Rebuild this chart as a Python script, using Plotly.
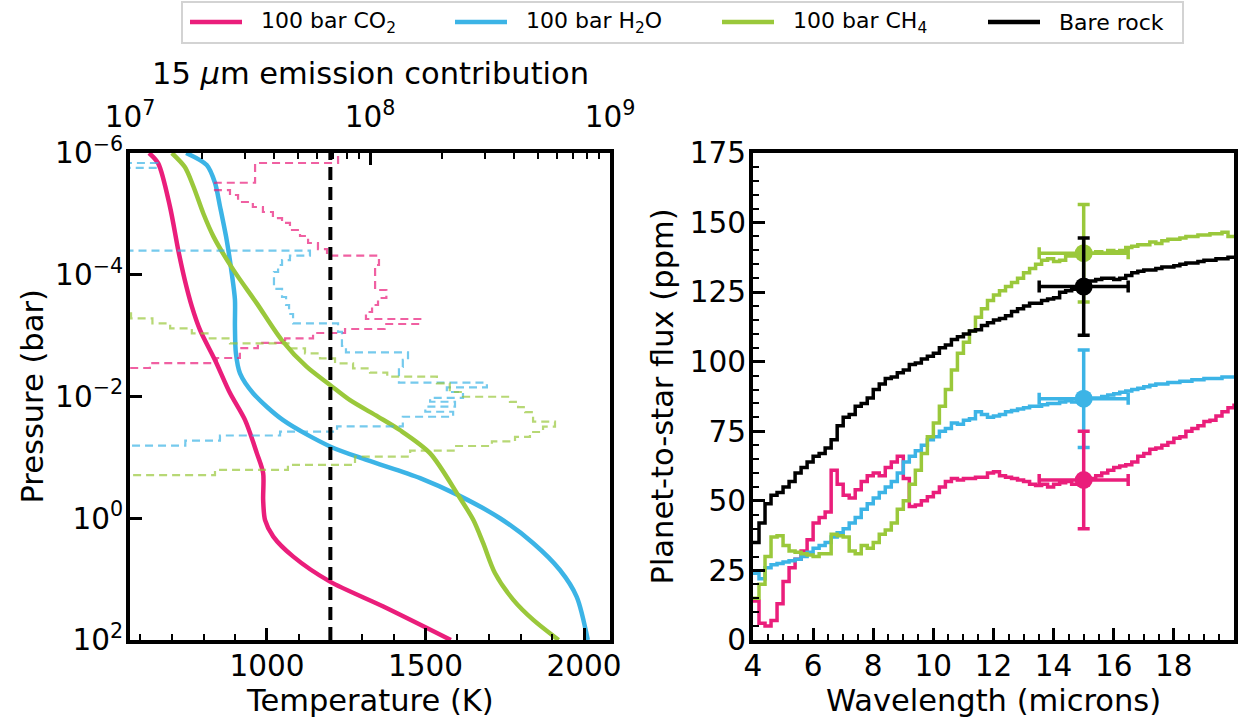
import plotly.graph_objects as go

# ---------------- colours ----------------
PINK = "#EA1E7B"
BLUE = "#3CB4E6"
GREEN = "#9AC83B"
BLACK = "#000000"
FONT = "DejaVu Sans"

# ---------------- left panel: T-P profiles ----------------
co2_p = [1e-6, 1.48e-6, 7.6e-6, 3.9e-5, 1.23e-4, 3.31e-4, 8.13e-4, 2.51e-3, 8.71e-3,
         2.45e-2, 8.51e-2, 0.182, 0.501, 1.07, 2.0, 4.27, 11.0, 28.2, 100]
co2_t = [628, 657, 694, 720, 741, 763, 789, 836, 883, 931, 968, 988, 988, 994, 1020,
         1083, 1199, 1367, 1580]

h2o_p = [1e-6, 1.58e-6, 3.09e-6, 7.6e-6, 2.69e-5, 9.55e-5, 2.57e-4, 7.08e-4, 1.95e-3,
         4.17e-3, 8.91e-3, 2.45e-2, 6.61e-2, 0.110, 0.219, 0.417, 1.0, 2.57, 7.08, 19.5, 100]
h2o_t = [745, 810, 836, 852, 873, 889, 899, 899, 902, 915, 957, 1051, 1199, 1314, 1483,
         1603, 1735, 1840, 1924, 1977, 2012]

ch4_p = [1e-6, 1.70e-6, 3.55e-6, 9.77e-6, 2.34e-5, 8.32e-5, 2.95e-4, 1.17e-3, 3.24e-3,
         6.46e-3, 1.15e-2, 2.14e-2, 3.55e-2, 8.51e-2, 0.417, 1.07, 2.57, 7.94, 21.9, 46.8, 100]
ch4_t = [700, 741, 768, 799, 831, 894, 968, 1046, 1125, 1199, 1262, 1350, 1419, 1514,
         1603, 1651, 1682, 1719, 1777, 1840, 1920]

T_REF = 1200  # vertical dashed reference temperature (K)

# 15 micron emission contribution functions (layer value, layer-top pressure)
co2_cf_p = [1.12e-6, 1.46e-6, 3.08e-6, 4.06e-6, 4.90e-6, 6.38e-6, 7.71e-6, 9.31e-6, 1.17e-5,
            1.41e-5, 1.84e-5, 2.31e-5, 3.01e-5, 3.78e-5, 4.86e-5, 6.92e-5, 1.78e-4, 2.41e-4,
            3.14e-4, 4.09e-4, 5.33e-4, 6.44e-4, 7.78e-4, 9.06e-4, 1.11e-3, 1.32e-3, 1.60e-3,
            2.33e-3, 2.82e-3, 3.40e-3]
co2_cf = [7.36e7, 3.32e7, 2.26e7, 2.61e7, 2.82e7, 3.25e7, 3.58e7, 3.94e7, 4.30e7,
          4.64e7, 5.11e7, 5.52e7, 6.07e7, 6.62e7, 1.09e8, 1.05e8, 1.17e8, 1.08e8,
          1.02e8, 9.62e7, 1.62e8, 1.15e8, 7.87e7, 5.79e7, 4.43e7, 3.41e7, 2.87e7,
          2.30e7, 1.21e7, 1e6]

h2o_cf_p = [8.9e-7, 1.46e-6, 1.76e-6, 4.03e-5, 4.86e-5, 5.73e-5, 6.92e-5, 9.02e-5, 1.71e-4,
            2.32e-4, 3.14e-4, 4.41e-4, 6.28e-4, 8.71e-4, 1.48e-3, 1.88e-3, 2.51e-3, 3.27e-3,
            5.93e-3, 7.06e-3, 8.44e-3, 1.05e-2, 1.22e-2, 1.47e-2, 1.78e-2, 2.15e-2, 3.09e-2,
            3.79e-2, 4.37e-2, 5.32e-2, 6.43e-2]
h2o_cf = [1e6, 1.30e7, 1e6, 5.62e7, 4.64e7, 4.30e7, 4.14e7, 3.98e7, 4.30e7,
          4.47e7, 4.60e7, 4.78e7, 7.36e7, 7.64e7, 7.94e7, 1.44e8, 1.37e8, 1.32e8,
          3.07e8, 2.09e8, 2.44e8, 1.78e8, 2.26e8, 1.70e8, 2.22e8, 1.37e8, 7.29e7,
          4.22e7, 2.37e7, 1.70e7, 1e6]

ch4_cf_p = [8.9e-7, 4.29e-4, 5.19e-4, 6.28e-4, 7.59e-4, 9.17e-4, 1.11e-3, 1.34e-3, 1.62e-3,
            1.95e-3, 2.36e-3, 2.85e-3, 3.44e-3, 4.06e-3, 4.73e-3, 6.07e-3, 8.44e-3, 1.01e-2,
            1.23e-2, 1.49e-2, 1.80e-2, 2.59e-2, 3.13e-2, 3.83e-2, 4.62e-2, 5.44e-2, 6.50e-2,
            7.76e-2, 9.75e-2, 0.133, 0.161, 0.195]
ch4_cf = [1e6, 1.01e7, 1.24e7, 1.47e7, 1.81e7, 2.15e7, 2.61e7, 4.64e7, 5.36e7,
          6.19e7, 7.15e7, 8.50e7, 1.00e8, 1.18e8, 1.90e8, 2.15e8, 2.44e8, 3.83e8,
          4.14e8, 4.43e8, 4.78e8, 5.90e8, 5.26e8, 4.64e8, 4.02e8, 3.22e8, 2.26e8,
          1.47e8, 8.66e7, 4.55e7, 2.26e7, 1e6]

# ---------------- right panel: emission spectra ----------------
wavelength = [4.0 + 0.2 * i for i in range(81)]
flux_rock = [35, 42, 49, 52, 53, 55, 57, 60, 62, 64, 66, 67, 69, 72, 77, 80, 81, 84, 85, 87,
             90, 92, 94, 94.5, 96, 97, 99, 99.5, 101, 102, 103, 105, 106, 108, 109, 110, 111,
             111.5, 113, 114, 115, 115.5, 116.5, 118, 119, 120, 121, 121, 122, 122.5, 123, 125,
             125.5, 126, 127, 128, 129, 129.5, 130, 130, 129.5, 130, 131, 132, 132.5, 133, 133,
             133.5, 134, 134, 134.5, 135, 135.5, 135.5, 136, 136.5, 136.5, 137, 137, 137.5, 138]
flux_co2 = [14, 6, 5, 7, 13, 21, 26, 29, 32, 36, 42, 44, 46, 61, 56, 52, 51, 54, 57, 59,
            60, 59, 62, 64, 66, 58, 48, 48.5, 50, 51.5, 53, 55, 57, 58, 57.5, 58, 58, 58.5,
            58.5, 60, 60.5, 59, 58.5, 58, 57.5, 57, 56, 55.5, 56, 55, 56, 56.5, 57, 56, 57,
            57.5, 58, 59, 60, 61, 62, 62.5, 63, 64, 66, 67, 68.5, 69, 70, 71, 72.5, 73, 75,
            76, 77, 78.5, 79, 80.5, 82, 83.5, 85]
flux_h2o = [24, 22, 26, 27, 27.5, 28, 28.5, 29, 30, 31.5, 33, 34, 35, 37, 38.5, 40, 42, 44,
            47, 49, 51, 53, 55, 57, 60, 64, 66, 68, 70, 72, 73, 75, 76, 78, 77.5, 79, 79.5,
            82, 81, 80, 80.5, 81, 82, 82.5, 83, 83.5, 84, 84, 84.5, 85, 85, 85.5, 86, 85.5,
            86, 86.5, 87, 87, 87.5, 88, 88.5, 89, 89.5, 90, 90.5, 91, 91.5, 92, 92, 92.5,
            92.5, 93, 93, 93.5, 93.5, 94, 94, 94, 94.5, 94.5, 95]
flux_ch4 = [15, 20, 30, 37, 37.5, 34, 32, 31.5, 31, 30.5, 30, 31, 31, 38, 37.5, 37, 32, 31,
            34, 33, 35, 38, 39.5, 42, 47, 50, 56, 61, 67, 73, 78, 84, 90, 97, 103, 107, 111,
            116, 119, 122, 124, 125.5, 127, 128.5, 130, 132, 133.5, 135, 136.5, 137, 136,
            136.5, 138, 138, 138.5, 138.5, 139, 139.5, 139, 140, 139.5, 140, 141, 141.5, 142,
            142, 143, 142.5, 143.5, 144, 144, 144.5, 145, 145, 145.5, 145.5, 146, 146, 146.5,
            145, 144.5]

# 15 micron photometric points
obs_wl = [15.0]
obs_wl_err = [1.48]
obs_flux_err = [17.5]
obs_co2 = [57.5]
obs_h2o = [86.7]
obs_ch4 = [139]
obs_rock = [127]

legend_labels = ["100 bar CO<sub>2</sub>", "100 bar H<sub>2</sub>O",
                 "100 bar CH<sub>4</sub>", "Bare rock"]
legend_colors = [PINK, BLUE, GREEN, BLACK]

# ---------------- figure ----------------
W, H = 1239, 719
L_DOM = [130 / W, 610 / W]
R_DOM = [753 / W, 1234 / W]
Y_DOM = [(H - 640) / H, (H - 153) / H]
TICK_SIZE = 29.5
TITLE_SIZE = 30.5

fig = go.Figure()

# contribution functions (top axis)
for p, c, col in [(co2_cf_p, co2_cf, PINK), (h2o_cf_p, h2o_cf, BLUE), (ch4_cf_p, ch4_cf, GREEN)]:
    fig.add_trace(go.Scatter(x=c, y=p, xaxis="x3", yaxis="y", mode="lines",
                             line=dict(color=col, width=2.2, dash="8px,5px", shape="vh"),
                             opacity=0.7, showlegend=False, hoverinfo="skip"))

# T-P profiles
for p, t, col, name in [(co2_p, co2_t, PINK, legend_labels[0]),
                        (h2o_p, h2o_t, BLUE, legend_labels[1]),
                        (ch4_p, ch4_t, GREEN, legend_labels[2])]:
    fig.add_trace(go.Scatter(x=t, y=p, xaxis="x", yaxis="y", mode="lines", name=name,
                             showlegend=False,
                             line=dict(color=col, width=4.5, shape="spline", smoothing=0.8)))

fig.add_shape(type="line", xref="x", yref="y domain", x0=T_REF, x1=T_REF, y0=0, y1=1,
              line=dict(color=BLACK, width=4, dash="13px,7px"), layer="above")

# spectra
for f, col in [(flux_co2, PINK), (flux_h2o, BLUE), (flux_ch4, GREEN)]:
    fig.add_trace(go.Scatter(x=wavelength, y=f, xaxis="x2", yaxis="y2", mode="lines",
                             line=dict(color=col, width=3.5, shape="hv"), showlegend=False))
fig.add_trace(go.Scatter(x=wavelength, y=flux_rock, xaxis="x2", yaxis="y2", mode="lines",
                         name=legend_labels[3], showlegend=False,
                         line=dict(color=BLACK, width=3.5, shape="hv")))

for f, col in [(obs_ch4, GREEN), (obs_rock, BLACK), (obs_h2o, BLUE), (obs_co2, PINK)]:
    fig.add_trace(go.Scatter(
        x=obs_wl, y=f, xaxis="x2", yaxis="y2", mode="markers", showlegend=False,
        marker=dict(color=col, size=18),
        error_y=dict(type="data", array=obs_flux_err, color=col, thickness=3.5, width=6),
        error_x=dict(type="data", array=obs_wl_err, color=col, thickness=3.5, width=6)))

tickfont = dict(family=FONT, size=TICK_SIZE, color="black")
common = dict(showline=True, linecolor="black", linewidth=4, ticks="inside", ticklen=12,
              tickwidth=3, tickcolor="black", tickfont=tickfont, showgrid=False,
              zeroline=False, automargin=False)
minor_common = dict(ticks="inside", ticklen=6, tickwidth=2, tickcolor="black", showgrid=False)

sup = lambda e: "10<sup>%s</sup>" % str(e).replace("-", "\u2212")

fig.update_layout(
    width=W, height=H, margin=dict(l=0, r=0, t=0, b=0, autoexpand=False),
    paper_bgcolor="white", plot_bgcolor="white", showlegend=False,
    font=dict(family=FONT, size=TICK_SIZE, color="black"),
    xaxis=dict(domain=L_DOM, anchor="y", range=[568, 2082], tickvals=[1000, 1500, 2000],
               ticklabelstandoff=-3,
               mirror=True, minor=dict(dtick=100, tick0=0, **minor_common), **common),
    yaxis=dict(domain=Y_DOM, anchor="x", type="log", range=[2, -6],
               tickvals=[1e-6, 1e-4, 1e-2, 1, 100], ticklabelstandoff=-3,
               ticktext=[sup(-6), sup(-4), sup(-2), sup(0), sup(2)], mirror=True, **common),
    xaxis3=dict(overlaying="x", side="top", anchor="y", type="log", range=[7, 9],
                tickvals=[1e7, 1e8, 1e9], ticktext=[sup(7), sup(8), sup(9)],
                ticklabelstandoff=10,
                minor=dict(tickmode="array",
                           tickvals=[k * 1e7 for k in range(2, 10)] + [k * 1e8 for k in range(2, 10)],
                           **minor_common), **common),
    xaxis2=dict(domain=R_DOM, anchor="y2", range=[4, 20], tickvals=list(range(4, 20, 2)),
                ticklabelstandoff=-3,
                mirror=True, minor=dict(dtick=0.5, tick0=0, **minor_common), **common),
    yaxis2=dict(domain=Y_DOM, anchor="x2", range=[0, 175], tickvals=list(range(0, 176, 25)),
                ticklabelstandoff=-3,
                mirror=True, minor=dict(dtick=5, tick0=0, **minor_common), **common),
)

# ---- legend drawn in paper pixels ----
def px(x):
    return x / W

def py(y):
    return 1 - y / H

fig.add_shape(type="rect", xref="paper", yref="paper", x0=px(182), x1=px(1183),
              y0=py(43), y1=py(2), line=dict(color="#d3d3d3", width=2), fillcolor="white")
leg_x0 = [190, 455, 722, 988]
for x0, lab, col in zip(leg_x0, legend_labels, legend_colors):
    fig.add_shape(type="line", xref="paper", yref="paper", x0=px(x0), x1=px(x0 + 52),
                  y0=py(22), y1=py(22), line=dict(color=col, width=4.5))
    fig.add_annotation(text=lab, xref="paper", yref="paper", x=px(x0 + 69), y=py(22),
                       xanchor="left", yanchor="middle", showarrow=False,
                       font=dict(family=FONT, size=22, color="black"))

ann = dict(xref="paper", yref="paper", showarrow=False,
           font=dict(family=FONT, size=TITLE_SIZE, color="black"))
fig.add_annotation(text="15 <i>\u03bc</i>m emission contribution", x=370 / W, y=1 - 73 / H,
                   xanchor="center", yanchor="middle", **ann)
fig.add_annotation(text="Temperature (K)", x=370 / W, y=1 - 700 / H,
                   xanchor="center", yanchor="middle", **ann)
fig.add_annotation(text="Wavelength (microns)", x=993.5 / W, y=1 - 700 / H,
                   xanchor="center", yanchor="middle", **ann)
fig.add_annotation(text="Pressure (bar)", x=32 / W, y=1 - 396.5 / H, textangle=-90,
                   xanchor="center", yanchor="middle", **ann)
fig.add_annotation(text="Planet-to-star flux (ppm)", x=662 / W, y=1 - 396.5 / H, textangle=-90,
                   xanchor="center", yanchor="middle", **ann)

fig.write_html("out.html")
